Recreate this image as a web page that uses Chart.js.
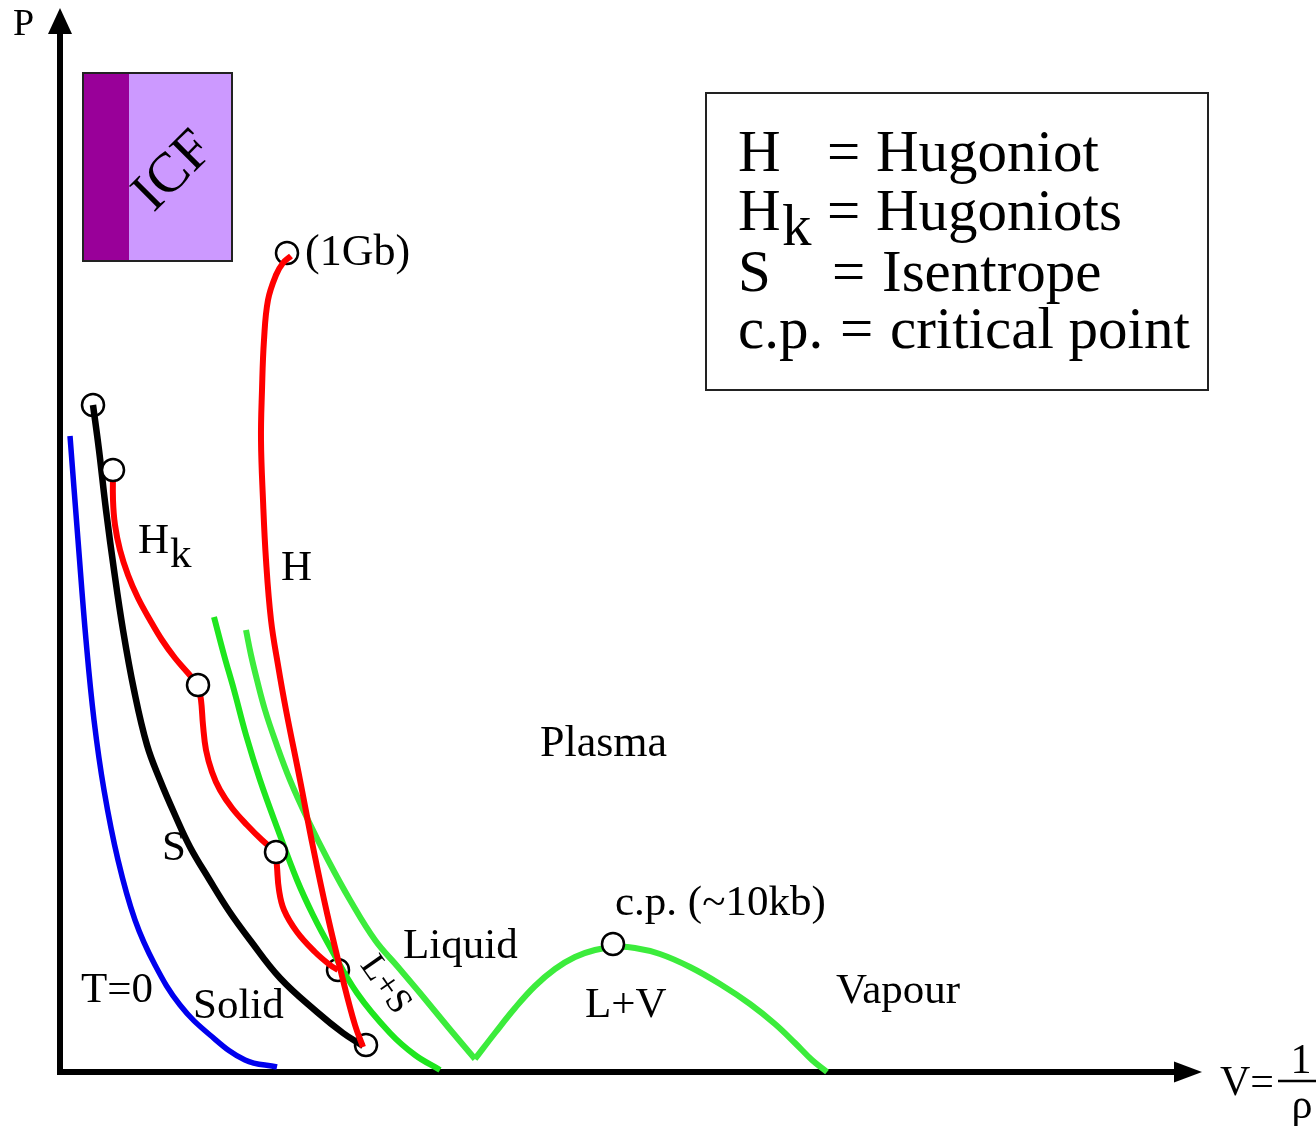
<!DOCTYPE html>
<html>
<head>
<meta charset="utf-8">
<script src="https://cdn.jsdelivr.net/npm/chart.js@4.4.1/dist/chart.umd.min.js"></script>
<style>
  html, body { margin: 0; padding: 0; background: #fff; overflow: hidden; }
  canvas { display: block; }
</style>
</head>
<body>
<canvas id="c" width="1316" height="1126"></canvas>
<script>
// Schematic P–V phase diagram. V = 1/rho on the horizontal axis, P on the vertical axis,
// both in arbitrary units with the origin at the axes' corner.

// T = 0 (cold) curve
const coldV = [0.10, 0.18, 0.26, 0.34, 0.44, 0.58, 0.75, 0.95, 1.20, 1.50, 1.85, 2.17];
const coldP = [6.36, 5.32, 4.32, 3.52, 2.82, 2.12, 1.52, 1.07, 0.67, 0.37, 0.12, 0.05];

// S: isentrope
const isentropeV = [0.33, 0.39, 0.46, 0.54, 0.63, 0.74, 0.87, 1.00, 1.15, 1.30, 1.49, 1.69, 1.90, 2.20, 2.57, 2.83, 3.03];
const isentropeP = [6.67, 6.22, 5.62, 5.02, 4.42, 3.82, 3.27, 2.92, 2.57, 2.25, 1.93, 1.61, 1.32, 0.94, 0.60, 0.39, 0.26];

// Hk: successive Hugoniots, each starting from the end state of the previous one
const hk1V = [0.53, 0.53, 0.55, 0.60, 0.68, 0.78, 0.90, 1.02, 1.15, 1.28, 1.38];
const hk1P = [6.02, 5.72, 5.47, 5.22, 4.97, 4.74, 4.52, 4.32, 4.14, 3.99, 3.87];
const hk2V = [1.38, 1.41, 1.43, 1.46, 1.52, 1.60, 1.72, 1.87, 2.02, 2.16];
const hk2P = [3.87, 3.72, 3.47, 3.22, 3.00, 2.82, 2.64, 2.47, 2.32, 2.20];
const hk3V = [2.16, 2.17, 2.19, 2.24, 2.37, 2.55, 2.70, 2.78];
const hk3P = [2.20, 2.05, 1.82, 1.62, 1.40, 1.20, 1.07, 1.02];

// H: principal Hugoniot up to ~1 Gb
const hugoniotV = [2.31, 2.23, 2.16, 2.08, 2.04, 2.02, 2.01, 2.03, 2.06, 2.11, 2.18, 2.26, 2.40, 2.53, 2.67, 2.83, 2.95, 3.03];
const hugoniotP = [8.16, 8.09, 7.97, 7.72, 7.32, 6.82, 6.32, 5.72, 5.12, 4.52, 4.07, 3.62, 2.92, 2.25, 1.59, 0.92, 0.47, 0.25];

// Solidus (left boundary of L+S)
const solidusV = [1.54, 1.64, 1.74, 1.86, 2.00, 2.18, 2.37, 2.53, 2.70, 2.97, 3.30, 3.55, 3.80];
const solidusP = [4.55, 4.17, 3.82, 3.37, 2.92, 2.42, 1.92, 1.57, 1.25, 0.79, 0.39, 0.17, 0.02];

// Liquidus (right boundary of L+S)
const liquidusV = [1.86, 1.91, 1.97, 2.05, 2.15, 2.30, 2.48, 2.68, 2.90, 3.15, 3.38, 3.60, 3.88, 4.15];
const liquidusP = [4.42, 4.17, 3.92, 3.62, 3.32, 2.92, 2.52, 2.12, 1.72, 1.32, 1.05, 0.79, 0.45, 0.13];

// Liquid–vapour coexistence dome
const domeV = [4.15, 4.35, 4.55, 4.75, 4.95, 5.15, 5.35, 5.55, 5.75, 6.00, 6.30, 6.60, 6.90, 7.15, 7.35, 7.52, 7.67];
const domeP = [0.13, 0.39, 0.64, 0.86, 1.03, 1.15, 1.22, 1.25, 1.24, 1.18, 1.05, 0.88, 0.68, 0.48, 0.29, 0.12, 0.00];

// Marked states drawn as open circles (shown above the curves)
const openV = [0.53, 1.38, 2.16, 5.53];
const openP = [6.02, 3.87, 2.20, 1.28];
// Marked states where curve ends run across the circle
const endV = [0.33, 2.27, 2.78, 3.06];
const endP = [6.67, 8.19, 1.02, 0.27];

// Text labels: [text, V, P (baseline), font size]
const regionLabels = [
  ['Plasma', 4.80, 3.16, 44],
  ['Liquid', 3.43, 1.14, 43],
  ['L+V', 5.25, 0.55, 43],
  ['Vapour', 7.76, 0.69, 43],
  ['c.p. (~10kb)', 5.55, 1.57, 43],
  ['Solid', 1.33, 0.54, 43],
  ['T=0', 0.21, 0.70, 43],
  ['S', 1.02, 2.12, 43],
  ['H', 2.21, 4.92, 43],
  ['H', 0.78, 5.19, 43],
  ['k', 1.10, 5.05, 43],
  ['(1Gb)', 2.45, 8.07, 44]
];

// Key box: [text, V, P (baseline)]
const keyTexts = [
  ['H', 6.78, 9.01], ['=', 7.67, 9.01], ['Hugoniot', 8.16, 9.01],
  ['H', 6.78, 8.42], ['k', 7.22, 8.27], ['=', 7.67, 8.42], ['Hugoniots', 8.16, 8.42],
  ['S', 6.78, 7.81], ['=', 7.72, 7.81], ['Isentrope', 8.22, 7.81],
  ['c.p.', 6.78, 7.24], ['=', 7.80, 7.24], ['critical point', 8.30, 7.24]
];

const toPoints = (vs, ps) => vs.map((v, i) => ({ x: v, y: ps[i] }));

const SERIF = '"Liberation Serif", "DejaVu Serif", serif';

const decor = {
  id: 'decor',
  beforeDatasetsDraw(chart) {
    const { ctx, scales: { x, y } } = chart;
    const X = v => x.getPixelForValue(v);
    const Y = p => y.getPixelForValue(p);
    ctx.save();

    // ICF region
    ctx.fillStyle = '#cc99ff';
    ctx.fillRect(X(0.23), Y(9.99), X(1.72) - X(0.23), Y(8.11) - Y(9.99));
    ctx.fillStyle = '#990099';
    ctx.fillRect(X(0.23), Y(9.99), X(0.69) - X(0.23), Y(8.11) - Y(9.99));
    ctx.strokeStyle = '#222';
    ctx.lineWidth = 2;
    ctx.strokeRect(X(0.23), Y(9.99), X(1.72) - X(0.23), Y(8.11) - Y(9.99));
    ctx.save();
    ctx.translate(X(1.14), Y(9.00));
    ctx.rotate(-Math.PI / 4);
    ctx.fillStyle = '#000';
    ctx.font = '56px ' + SERIF;
    ctx.textAlign = 'center';
    ctx.textBaseline = 'middle';
    ctx.fillText('ICF', 0, 0);
    ctx.restore();

    // Axes with arrow heads
    ctx.strokeStyle = '#000';
    ctx.fillStyle = '#000';
    ctx.lineWidth = 6;
    ctx.beginPath();
    ctx.moveTo(X(0), Y(-0.03));
    ctx.lineTo(X(0), Y(10.40));
    ctx.moveTo(X(-0.03), Y(0));
    ctx.lineTo(X(11.16), Y(0));
    ctx.stroke();
    ctx.beginPath();
    ctx.moveTo(X(0), Y(10.64));
    ctx.lineTo(X(0) - 12, Y(10.38));
    ctx.lineTo(X(0) + 12, Y(10.38));
    ctx.closePath();
    ctx.fill();
    ctx.beginPath();
    ctx.moveTo(X(11.42), Y(0));
    ctx.lineTo(X(11.14), Y(0) - 10.5);
    ctx.lineTo(X(11.14), Y(0) + 10.5);
    ctx.closePath();
    ctx.fill();
    ctx.restore();
  },
  afterDatasetsDraw(chart) {
    const { ctx, scales: { x, y } } = chart;
    const X = v => x.getPixelForValue(v);
    const Y = p => y.getPixelForValue(p);
    ctx.save();
    ctx.fillStyle = '#000';
    ctx.textBaseline = 'alphabetic';
    ctx.textAlign = 'left';

    regionLabels.forEach(([t, v, p, s]) => {
      ctx.font = s + 'px ' + SERIF;
      ctx.fillText(t, X(v), Y(p));
    });

    // L+S label, written along the solidus
    ctx.save();
    ctx.translate(X(3.25), Y(0.87));
    ctx.rotate(55 * Math.PI / 180);
    ctx.font = '36px ' + SERIF;
    ctx.textAlign = 'center';
    ctx.textBaseline = 'middle';
    ctx.fillText('L+S', 0, 0);
    ctx.restore();

    // Axis titles
    ctx.font = '38px ' + SERIF;
    ctx.fillText('P', X(-0.47), Y(10.37));
    ctx.font = '42px ' + SERIF;
    ctx.fillText('V=', X(11.60), Y(-0.23));
    ctx.textAlign = 'center';
    ctx.fillText('1', X(12.41), Y(-0.01));
    ctx.fillText('ρ', X(12.42), Y(-0.46));
    ctx.strokeStyle = '#000';
    ctx.lineWidth = 2.5;
    ctx.beginPath();
    ctx.moveTo(X(12.18), Y(-0.09));
    ctx.lineTo(X(12.60), Y(-0.09));
    ctx.stroke();

    // Key box
    ctx.lineWidth = 2;
    ctx.strokeStyle = '#222';
    ctx.strokeRect(X(6.46), Y(9.79), X(11.48) - X(6.46), Y(6.82) - Y(9.79));
    ctx.textAlign = 'left';
    ctx.font = '59px ' + SERIF;
    keyTexts.forEach(([t, v, p]) => ctx.fillText(t, X(v), Y(p)));
    ctx.restore();
  }
};

const lineStyle = (color, width, order) => ({
  type: 'line',
  borderColor: color,
  borderWidth: width,
  pointRadius: 0,
  fill: false,
  tension: 0.4,
  order: order
});

const stateStyle = order => ({
  type: 'scatter',
  pointRadius: 11,
  pointBorderWidth: 2.5,
  pointBackgroundColor: '#fff',
  pointBorderColor: '#000',
  showLine: false,
  order: order
});

new Chart(document.getElementById('c'), {
  type: 'line',
  data: {
    datasets: [
      Object.assign(stateStyle(0), { label: 'open states', data: toPoints(openV, openP) }),
      Object.assign(lineStyle('#ff0000', 6, 1), { label: 'H', data: toPoints(hugoniotV, hugoniotP) }),
      Object.assign(lineStyle('#ff0000', 6, 2), { label: 'Hk 1', data: toPoints(hk1V, hk1P) }),
      Object.assign(lineStyle('#ff0000', 6, 2), { label: 'Hk 2', data: toPoints(hk2V, hk2P) }),
      Object.assign(lineStyle('#ff0000', 6, 2), { label: 'Hk 3', data: toPoints(hk3V, hk3P) }),
      Object.assign(lineStyle('#000000', 6.5, 3), { label: 'S', data: toPoints(isentropeV, isentropeP) }),
      Object.assign(lineStyle('#1ee61e', 6, 4), { label: 'solidus', data: toPoints(solidusV, solidusP) }),
      Object.assign(lineStyle('#3cec3c', 6, 5), { label: 'liquidus', data: toPoints(liquidusV, liquidusP) }),
      Object.assign(lineStyle('#3cec3c', 6, 5), { label: 'L+V dome', data: toPoints(domeV, domeP) }),
      Object.assign(lineStyle('#0000ee', 5.5, 6), { label: 'T=0', data: toPoints(coldV, coldP) }),
      Object.assign(stateStyle(10), { label: 'end states', data: toPoints(endV, endP) })
    ]
  },
  options: {
    responsive: false,
    animation: false,
    devicePixelRatio: 1,
    events: [],
    layout: { padding: 0, autoPadding: false },
    plugins: { legend: { display: false }, tooltip: { enabled: false } },
    scales: {
      x: { type: 'linear', min: -0.6, max: 12.56, display: false },
      y: { type: 'linear', min: -0.54, max: 10.72, display: false }
    }
  },
  plugins: [decor]
});
</script>
</body>
</html>
